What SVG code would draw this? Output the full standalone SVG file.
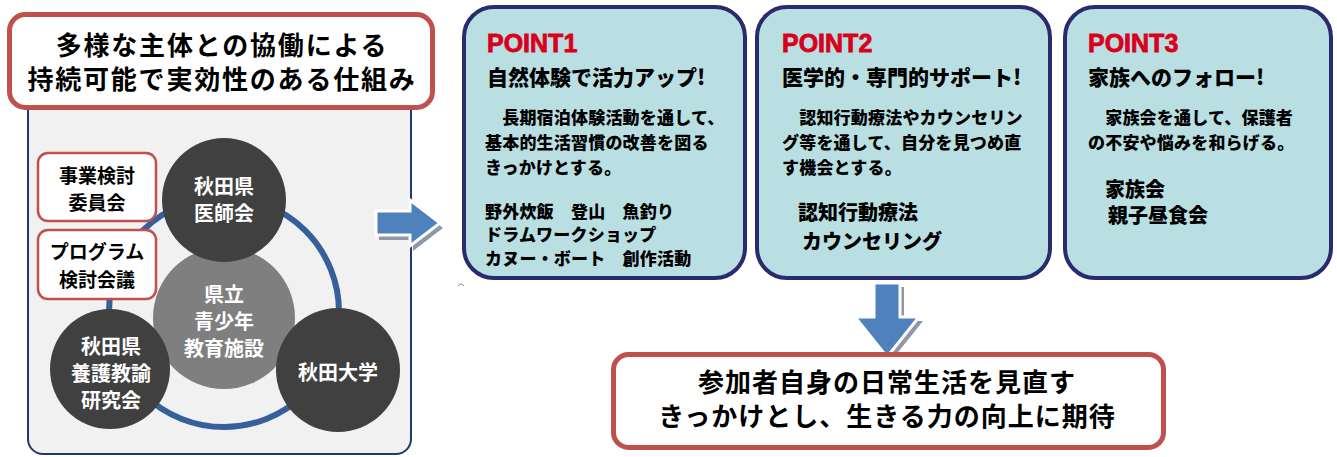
<svg xmlns="http://www.w3.org/2000/svg" width="1337" height="457" viewBox="0 0 1337 457">
  <defs>
    <style>
      .jp { font-family: "Noto Sans CJK JP", "Noto Sans", sans-serif; font-weight: 700; }
      .heavy { font-weight: 900; }
      .redbox { fill: #ffffff; stroke: #c0504d; }
      .pbox { fill: #b9dfe3; stroke: #2a2a6e; stroke-width: 4; }
      .ptitle { font-family: "Liberation Sans", Arial, sans-serif; font-weight: 700; font-size: 25px; fill: #d9001b; stroke: #d9001b; stroke-width: 0.8px; }
      .phead { font-size: 21px; fill: #000; }
      .pbody { font-size: 17px; fill: #000; letter-spacing: 0.2px; }
      .pbig { font-size: 20px; fill: #000; }
      .dark { fill: #404040; }
      .ctext { font-size: 20px; fill: #ffffff; text-anchor: middle; }
      .btext { font-size: 19px; fill: #000; text-anchor: middle; }
      .arrow { fill: #4f81bd; stroke: #ffffff; stroke-width: 3; stroke-linejoin: miter; }
      .shadow { fill: #8e98a8; }
    </style>
  </defs>

  <!-- left panel -->
  <g id="panel">
    <rect x="28" y="95" width="383" height="359" rx="15" fill="#f1f1f1" stroke="#1f3b6b" stroke-width="2"/>
  </g>

  <g id="connectors">
    <circle id="ring" cx="224" cy="312" r="115" fill="none" stroke="#35609a" stroke-width="6"/>
    <g id="arrow-right">
      <polygon class="shadow" points="379,216 413,216 413,205 443,228 413,251 413,240 379,240"/>
      <polygon class="arrow" points="376,211 410,211 410,200 440,223 410,246 410,235 376,235"/>
    </g>
    <g id="arrow-down">
      <polygon class="shadow" points="878,287 904,287 904,321 923,321 891,361 859,321 878,321"/>
      <polygon class="arrow" points="874,283 900,283 900,317 919,317 887,357 855,317 874,317"/>
    </g>
  </g>

  <g id="node-center">
    <circle cx="224" cy="318" r="71" fill="#7f7f7f"/>
    <text class="jp ctext" x="224" y="302">県立</text>
    <text class="jp ctext" x="224" y="329">青少年</text>
    <text class="jp ctext" x="224" y="356">教育施設</text>
  </g>

  <g id="node-ishikai">
    <circle class="dark" cx="224" cy="200" r="62"/>
    <text class="jp ctext" x="224" y="194">秋田県</text>
    <text class="jp ctext" x="224" y="221">医師会</text>
  </g>

  <g id="node-yogo">
    <circle class="dark" cx="110" cy="369" r="60"/>
    <text class="jp ctext" x="111" y="354">秋田県</text>
    <text class="jp ctext" x="111" y="381">養護教諭</text>
    <text class="jp ctext" x="111" y="408">研究会</text>
  </g>

  <g id="node-daigaku">
    <circle class="dark" cx="338" cy="370" r="62"/>
    <text class="jp ctext" x="338" y="380">秋田大学</text>
  </g>

  <g id="node-iinkai">
    <rect class="redbox" x="38" y="153" width="118" height="68" rx="10" stroke-width="2.5"/>
    <text class="jp btext" x="97" y="183">事業検討</text>
    <text class="jp btext" x="97" y="210">委員会</text>
  </g>

  <g id="node-program">
    <rect class="redbox" x="38" y="230" width="118" height="69" rx="10" stroke-width="2.5"/>
    <text class="jp btext" x="97" y="259">プログラム</text>
    <text class="jp btext" x="97" y="287">検討会議</text>
  </g>

  <g id="node-title">
    <rect class="redbox" x="9.5" y="14.5" width="423" height="93" rx="16" stroke-width="5"/>
    <text class="jp" x="222" y="55" font-size="26" letter-spacing="1.8" text-anchor="middle" fill="#000">多様な主体との協働による</text>
    <text class="jp" x="222" y="89" font-size="26" letter-spacing="1.8" text-anchor="middle" fill="#000">持続可能で実効性のある仕組み</text>
  </g>

  <g id="node-point1">
    <rect class="pbox" x="464" y="7" width="281" height="271" rx="30"/>
    <text class="ptitle" x="487" y="52">POINT1</text>
    <text class="jp heavy phead" x="487" y="85">自然体験で活力アップ!</text>
    <text class="jp heavy pbody" x="485" y="124">　長期宿泊体験活動を通して、</text>
    <text class="jp heavy pbody" x="485" y="149">基本的生活習慣の改善を図る</text>
    <text class="jp heavy pbody" x="485" y="174">きっかけとする。</text>
    <text class="jp heavy pbody" x="485" y="218">野外炊飯　登山　魚釣り</text>
    <text class="jp heavy pbody" x="485" y="241">ドラムワークショップ</text>
    <text class="jp heavy pbody" x="485" y="265">カヌー・ボート　創作活動</text>
  </g>

  <g id="node-point2">
    <rect class="pbox" x="757" y="7" width="293" height="271" rx="30"/>
    <text class="ptitle" x="782" y="52">POINT2</text>
    <text class="jp heavy phead" x="782" y="85">医学的・専門的サポート!</text>
    <text class="jp heavy pbody" x="782" y="124">　認知行動療法やカウンセリン</text>
    <text class="jp heavy pbody" x="782" y="149">グ等を通して、自分を見つめ直</text>
    <text class="jp heavy pbody" x="782" y="174">す機会とする。</text>
    <text class="jp heavy pbig" x="798" y="220">認知行動療法</text>
    <text class="jp heavy pbig" x="802" y="249">カウンセリング</text>
  </g>

  <g id="node-point3">
    <rect class="pbox" x="1065" y="7" width="266" height="271" rx="30"/>
    <text class="ptitle" x="1088" y="52">POINT3</text>
    <text class="jp heavy phead" x="1088" y="85">家族へのフォロー!</text>
    <text class="jp heavy pbody" x="1088" y="124">　家族会を通して、保護者</text>
    <text class="jp heavy pbody" x="1088" y="149">の不安や悩みを和らげる。</text>
    <text class="jp heavy pbig" x="1105" y="197">家族会</text>
    <text class="jp heavy pbig" x="1108" y="223">親子昼食会</text>
  </g>

  <g id="node-result">
    <rect class="redbox" x="613.5" y="354.5" width="550" height="93" rx="15" stroke-width="5"/>
    <text class="jp" x="887" y="392" font-size="26" letter-spacing="1" text-anchor="middle" fill="#000">参加者自身の日常生活を見直す</text>
    <text class="jp" x="887" y="426" font-size="26" letter-spacing="1" text-anchor="middle" fill="#000">きっかけとし、生きる力の向上に期待</text>
  </g>

  <path d="M458,286 Q461,282 464,286" fill="none" stroke="#888" stroke-width="1"/>
</svg>
